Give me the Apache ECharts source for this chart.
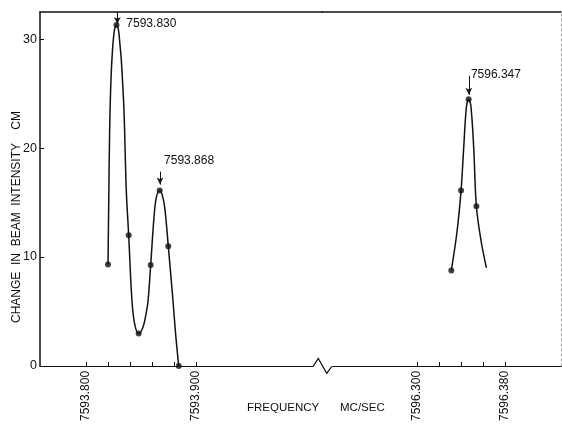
<!DOCTYPE html>
<html>
<head>
<meta charset="utf-8">
<script src="https://cdn.jsdelivr.net/npm/echarts@6/dist/echarts.min.js"></script>
<style>html,body{margin:0;padding:0;background:#fff}#c{width:562px;height:424px}</style>
</head>
<body>
<div id="c"></div>
<script>
// ---- data ----
const leftTicks = [7593.80, 7593.82, 7593.84, 7593.86, 7593.88, 7593.90];
const leftTickLabels = [7593.80, 7593.90];
const rightTicks = [7596.30, 7596.32, 7596.34, 7596.36, 7596.38];
const rightTickLabels = [7596.30, 7596.38];
const yTickValues = [0, 10, 20, 30];

// measured points (MC/SEC, cm)
const leftPoints = [
  [7593.8200, 9.32], [7593.8277, 31.3], [7593.8388, 12.0], [7593.8479, 2.97],
  [7593.8588, 9.26], [7593.8670, 16.1], [7593.8748, 11.0], [7593.8843, 0]
];
const rightPoints = [
  [7596.3312, 8.77], [7596.3400, 16.10], [7596.3469, 24.50], [7596.3539, 14.66]
];

// drawn curve
const leftCurve = [
  [7593.8200, 9.32], [7593.8207, 15.28], [7593.8215, 21.69], [7593.8227, 26.27],
  [7593.8241, 29.02], [7593.8259, 30.85], [7593.8277, 31.31], [7593.8295, 30.85],
  [7593.8309, 29.48], [7593.8321, 28.10], [7593.8345, 23.52], [7593.8366, 16.19],
  [7593.8388, 12.00], [7593.8418, 5.96], [7593.8443, 3.82], [7593.8479, 2.97],
  [7593.8518, 3.55], [7593.8545, 4.74], [7593.8564, 5.96], [7593.8588, 9.26],
  [7593.8618, 13.63], [7593.8639, 15.46], [7593.8670, 16.10], [7593.8695, 15.64],
  [7593.8718, 14.36], [7593.8748, 11.00], [7593.8791, 5.96], [7593.8815, 2.90],
  [7593.8843, 0]
];
const rightCurve = [
  [7596.3312, 8.77], [7596.3364, 12.37], [7596.3400, 16.10], [7596.3424, 20.01],
  [7596.3448, 23.71], [7596.3469, 24.50], [7596.3489, 23.89], [7596.3515, 20.01],
  [7596.3539, 14.66], [7596.3582, 11.45], [7596.3630, 9.02]
];

// peak annotations: label text, arrow x, arrow top y, arrow tip y
const peakLabels = ['7593.830', '7593.868', '7596.347'];
const peakArrowX = [7593.8285, 7593.8673, 7596.3471];
const peakArrowTop = [32.5, 17.84, 26.64];
const peakArrowTip = [31.40, 16.65, 24.90];

const xTitle1 = 'FREQUENCY';
const xTitle2 = 'MC/SEC';
const yTitle = 'CHANGE  IN  BEAM  INTENSITY    CM';

// ---- chart ----
const FONT = '"Liberation Sans", Arial, sans-serif';
const INK = '#111';
const leftMin = 7593.75818, leftMax = 7594.01455;
const rightMin = 7596.21391, rightMax = 7596.43064;
const yMax = 32.5;

function ann(i, offset) {
  return {
    line: [[{ coord: [peakArrowX[i], peakArrowTop[i]] }, { coord: [peakArrowX[i], peakArrowTip[i]] }]],
    point: [{
      coord: [peakArrowX[i], peakArrowTip[i]],
      label: {
        show: true, formatter: peakLabels[i], position: 'right', distance: 0,
        offset: offset, color: INK, fontSize: 12, fontFamily: FONT
      }
    }]
  };
}
function marks(list) {
  return {
    markLine: {
      silent: true, symbol: ['none', 'arrow'], symbolSize: [5, 7],
      lineStyle: { color: INK, width: 1, type: 'solid' }, label: { show: false },
      data: [].concat(...list.map(a => a.line))
    },
    markPoint: {
      silent: true, symbol: 'circle', symbolSize: 0,
      data: [].concat(...list.map(a => a.point))
    }
  };
}

const chart = echarts.init(document.getElementById('c'), null, { renderer: 'canvas' });
const bottomAxisCommon = {
  type: 'value', position: 'bottom',
  axisLine: { show: true, onZero: false, lineStyle: { color: INK, width: 1.2 } },
  axisTick: { show: true, inside: true, length: 4, lineStyle: { color: INK, width: 1 } },
  axisLabel: { show: true, rotate: 90, margin: 5, color: INK, fontSize: 12, fontFamily: FONT,
    formatter: v => v.toFixed(3) },
  splitLine: { show: false }
};
const topAxisCommon = {
  type: 'value', position: 'top',
  axisLine: { show: true, onZero: false, lineStyle: { color: INK, width: 1.5 } },
  axisTick: { show: false }, axisLabel: { show: false }, splitLine: { show: false }
};

const a1 = ann(0, [9, 0]);
const a2 = ann(1, [4, -24]);
const a3 = ann(2, [2, -20]);

chart.setOption({
  backgroundColor: '#fff',
  animation: false,
  grid: [
    { left: 40, top: 12, width: 282, height: 354.7 },
    { left: 322, top: 12, width: 239, height: 354.7 }
  ],
  xAxis: [
    Object.assign({}, bottomAxisCommon, { gridIndex: 0, min: leftMin, max: leftMax,
      axisTick: Object.assign({}, bottomAxisCommon.axisTick, { customValues: leftTicks }),
      axisLabel: Object.assign({}, bottomAxisCommon.axisLabel, { customValues: leftTickLabels }) }),
    Object.assign({}, bottomAxisCommon, { gridIndex: 1, min: rightMin, max: rightMax,
      axisTick: Object.assign({}, bottomAxisCommon.axisTick, { customValues: rightTicks }),
      axisLabel: Object.assign({}, bottomAxisCommon.axisLabel, { customValues: rightTickLabels }) }),
    Object.assign({}, topAxisCommon, { gridIndex: 0, min: leftMin, max: leftMax }),
    Object.assign({}, topAxisCommon, { gridIndex: 1, min: rightMin, max: rightMax })
  ],
  yAxis: [
    { type: 'value', gridIndex: 0, min: 0, max: yMax, position: 'left',
      axisLine: { show: true, onZero: false, lineStyle: { color: INK, width: 1.5 } },
      axisTick: { show: true, inside: true, length: 4, customValues: yTickValues, lineStyle: { color: INK } },
      axisLabel: { show: true, customValues: yTickValues, margin: 3, color: INK, fontSize: 12.5, fontFamily: FONT },
      splitLine: { show: false } },
    { type: 'value', gridIndex: 1, min: 0, max: yMax, position: 'right',
      axisLine: { show: true, onZero: false, lineStyle: { color: '#9a9a9a', width: 1, type: [2, 3] } },
      axisTick: { show: false }, axisLabel: { show: false }, splitLine: { show: false } }
  ],
  series: [
    Object.assign({ type: 'line', name: 'curveLeft', xAxisIndex: 0, yAxisIndex: 0, data: leftCurve,
      smooth: 0.35, showSymbol: false, lineStyle: { color: INK, width: 1.5 }, z: 3 }, marks([a1, a2])),
    { type: 'scatter', name: 'pointsLeft', xAxisIndex: 0, yAxisIndex: 0, data: leftPoints,
      symbol: 'circle', symbolSize: 6, itemStyle: { color: INK }, z: 4 },
    Object.assign({ type: 'line', name: 'curveRight', xAxisIndex: 1, yAxisIndex: 1, data: rightCurve,
      smooth: 0.35, showSymbol: false, lineStyle: { color: INK, width: 1.5 }, z: 3 }, marks([a3])),
    { type: 'scatter', name: 'pointsRight', xAxisIndex: 1, yAxisIndex: 1, data: rightPoints,
      symbol: 'circle', symbolSize: 6, itemStyle: { color: INK }, z: 4 }
  ],
  graphic: [
    { type: 'rect', shape: { x: 313, y: 364, width: 19, height: 5 }, style: { fill: '#fff' }, z: 100 },
    { type: 'polyline', shape: { points: [[313, 366.7], [318.3, 358.5], [326.7, 373.3], [331.7, 366.7]] },
      style: { stroke: INK, lineWidth: 1.2, fill: null }, z: 101 },
    { type: 'text', x: 247, y: 408, style: { text: xTitle1, fill: INK, font: '11.5px ' + FONT, verticalAlign: 'middle', align: 'left' }, z: 100 },
    { type: 'text', x: 340, y: 408, style: { text: xTitle2, fill: INK, font: '11.5px ' + FONT, verticalAlign: 'middle', align: 'left' }, z: 100 },
    { type: 'text', x: 17, y: 217, rotation: Math.PI / 2,
      style: { text: yTitle, fill: INK, font: '12px ' + FONT, verticalAlign: 'middle', align: 'center' }, z: 100 }
  ]
});
</script>
</body>
</html>
